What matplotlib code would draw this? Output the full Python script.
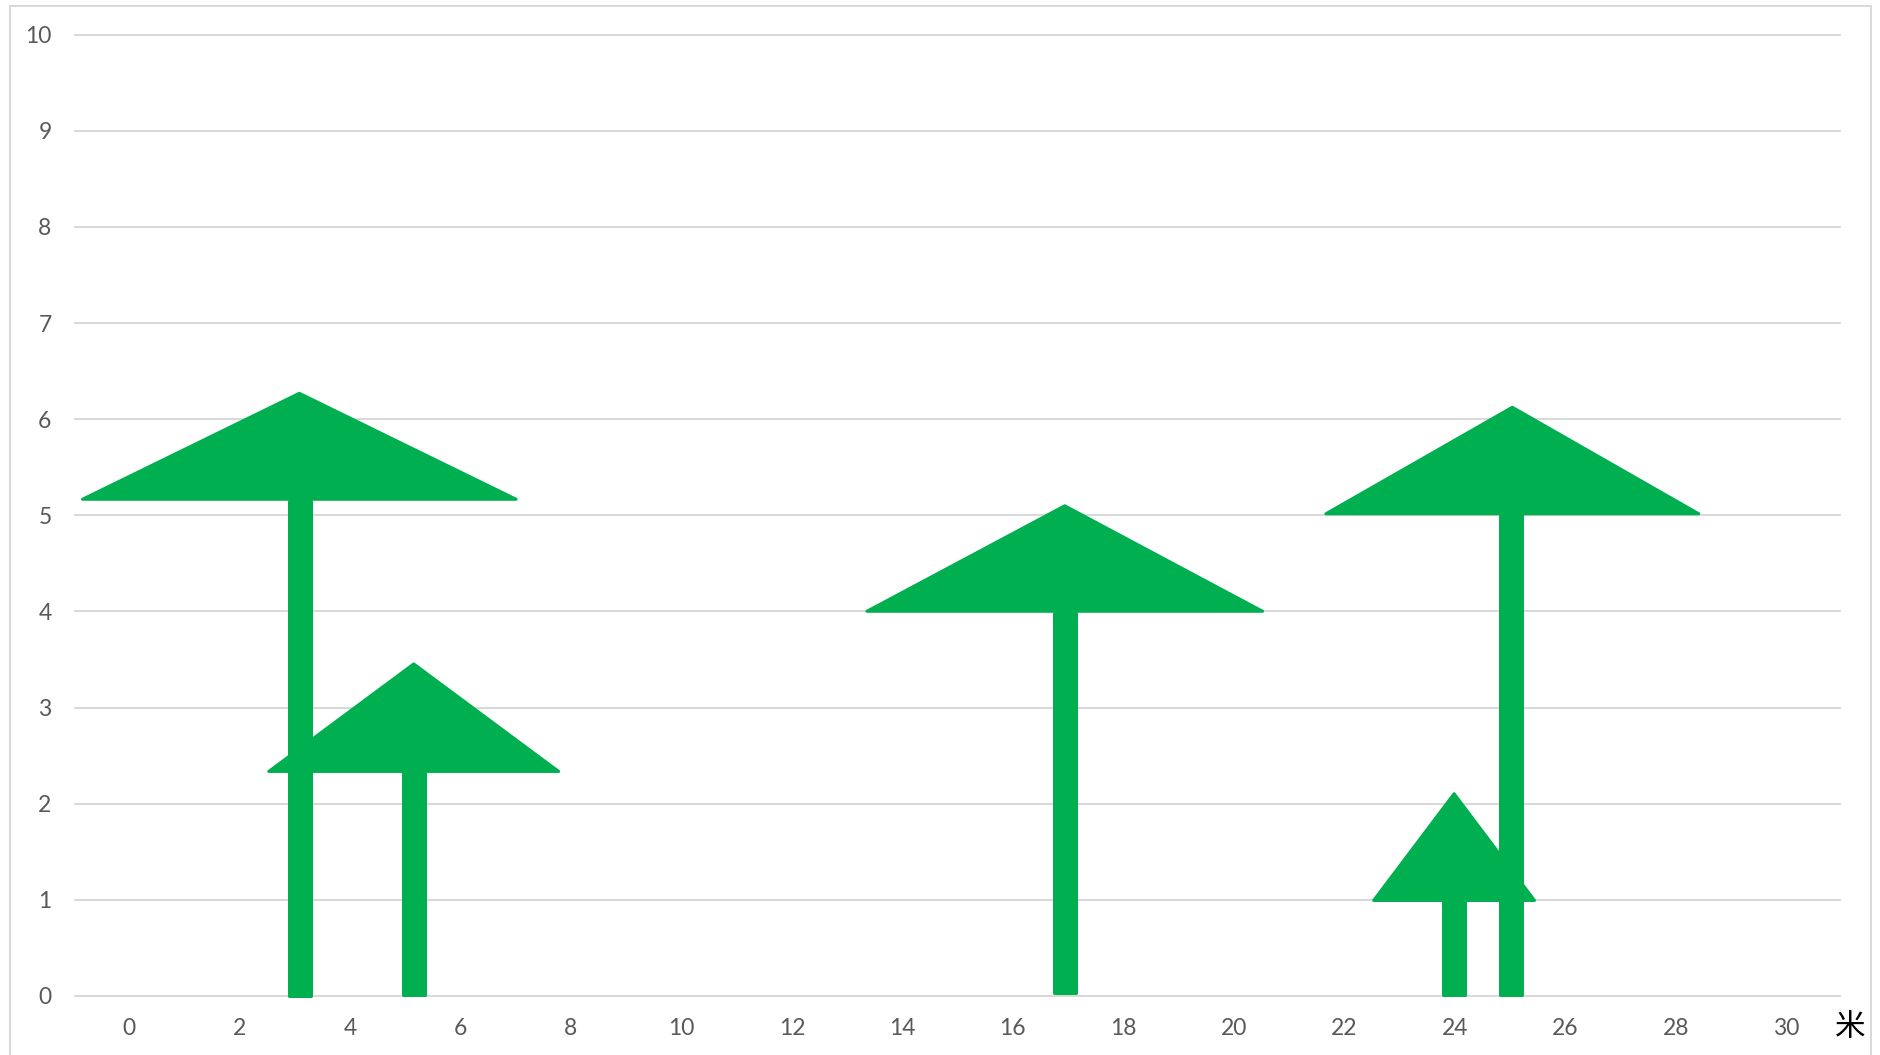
import matplotlib
matplotlib.use("Agg")
import matplotlib.pyplot as plt
from matplotlib.patches import Rectangle
from matplotlib.ticker import FixedLocator

# Data (outer edges of each arrow)
stem_x = [3.09, 5.155, 16.935, 25.015, 23.98]
stem_bottom = [-0.02, -0.007, 0.014, 0.0, -0.01]
tip_x = [3.083, 5.154, 16.939, 25.041, 23.987]
tip_y = [6.285, 3.47, 5.115, 6.14, 2.12]
head_base_y = [5.151, 2.32, 3.986, 5.00, 0.978]
head_half_width = [3.953, 2.652, 3.609, 3.403, 1.484]
x_ticks = list(range(0, 31, 2))
y_ticks = list(range(0, 11))
x_unit = "米"

W, H = 1881, 1055
GREEN = "#00B050"
GRID = "#D9D9D9"
TEXT = "#595959"
PX = 72 / 100

fig = plt.figure(figsize=(W / 100, H / 100), dpi=100, facecolor="white")
L, R, T, B = 73.76, 1841.5, 34.6, 996.0
ax = fig.add_axes([L / W, 1 - B / H, (R - L) / W, (B - T) / H])
ax.set_xlim(-1, 31)
ax.set_ylim(0, 10)
ax.patch.set_visible(False)
for s in ax.spines.values():
    s.set_visible(False)
ax.xaxis.set_major_locator(FixedLocator(x_ticks))
ax.yaxis.set_major_locator(FixedLocator(y_ticks))
ax.tick_params(axis="both", length=0, labelsize=16.5, labelcolor=TEXT)
ax.tick_params(axis="x", pad=15.5)
ax.tick_params(axis="y", pad=16)
for lab in ax.get_xticklabels() + ax.get_yticklabels():
    lab.set_fontfamily("Lato")
ax.grid(False)
ax.hlines(y_ticks, -1, 31, colors=GRID, linewidth=1.45, zorder=1, clip_on=False)

# Rounded outline of 3 px: shapes are inset by 1.5 px so outer edges stay on the read values
dx = 1.5 / ((R - L) / 32)
dy = 1.5 / ((B - T) / 10)
stem_w = 25 * dx / 1.5 - 2 * dx
for i in range(len(stem_x)):
    bars = ax.bar(stem_x[i], head_base_y[i] - stem_bottom[i] - dy, width=stem_w,
                  bottom=stem_bottom[i] + dy, color=GREEN, edgecolor=GREEN,
                  linewidth=3 * PX, zorder=3, clip_on=False)
    bars[0].set_joinstyle("round")
    cx = tip_x[i]
    hw = head_half_width[i] - dx
    ax.fill([cx - hw, cx, cx + hw], [head_base_y[i] + dy, tip_y[i] - dy, head_base_y[i] + dy],
            facecolor=GREEN, edgecolor=GREEN, linewidth=3 * PX, joinstyle="round",
            zorder=3, clip_on=False)

# Outer chart frame, running off the bottom of the image
fig.add_artist(Rectangle((10.3 / W, -0.02), (1870.7 - 10.3) / W, 1.02 - 6.5 / H,
                         transform=fig.transFigure, facecolor="none",
                         edgecolor=GRID, linewidth=1.45))
fig.text(1850 / W, 1 - 1028 / H, x_unit, family=["Noto Sans CJK SC", "DejaVu Sans"],
         fontsize=22, color="black", ha="center", va="center")

fig.savefig("out.png", dpi=100)
